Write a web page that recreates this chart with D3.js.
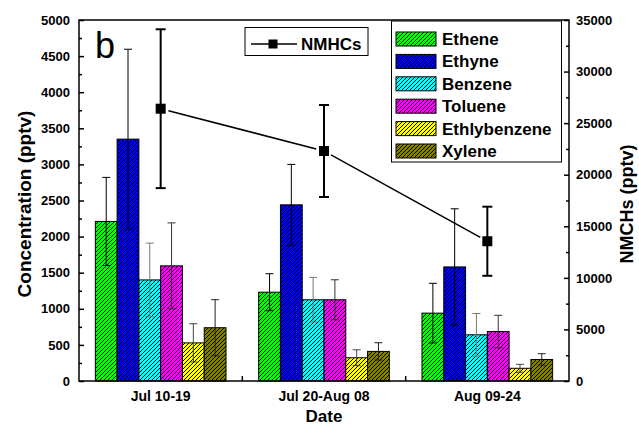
<!DOCTYPE html>
<html>
<head>
<meta charset="utf-8">
<script src="https://cdn.jsdelivr.net/npm/d3@7"></script>
<style>
  body { margin: 0; background: #fff; }
  text { font-family: "Liberation Sans", Arial, sans-serif; }
</style>
</head>
<body>
<svg id="chart" width="639" height="426"></svg>
<script>
// data
var periods = ["Jul 10-19", "Jul 20-Aug 08", "Aug 09-24"];
var species = ["Ethene", "Ethyne", "Benzene", "Toluene", "Ethlybenzene", "Xylene"];
var speciesColors = ["#00ff00", "#0000ff", "#00ffff", "#ff00ff", "#ffff00", "#808000"];
var errColors = ["#000", "#000", "#777", "#333", "#444", "#222"];
var ethene = [2210, 1230, 940];
var ethyne = [3350, 2440, 1580];
var benzene = [1400, 1125, 640];
var toluene = [1595, 1125, 685];
var ethlybenzene = [528, 322, 176];
var xylene = [738, 410, 298];
var etheneErr = [610, 256, 413];
var ethyneErr = [1245, 560, 805];
var benzeneErr = [510, 310, 295];
var tolueneErr = [595, 277, 225];
var ethlybenzeneErr = [265, 110, 55];
var xyleneErr = [388, 120, 80];
var nmhc = [26400, 22300, 13550];
var nmhcErr = [7700, 4460, 3350];
var leftTicks = d3.range(0, 5001, 500);
var rightTicks = d3.range(0, 35001, 5000);

var values = [ethene, ethyne, benzene, toluene, ethlybenzene, xylene];
var errors = [etheneErr, ethyneErr, benzeneErr, tolueneErr, ethlybenzeneErr, xyleneErr];

var L = 79, R = 569, T = 20, B = 381;
var svg = d3.select("#chart");

var defs = svg.append("defs");
speciesColors.forEach(function(c, i) {
    var p = defs.append("pattern")
        .attr("id", "hatch" + i)
        .attr("patternUnits", "userSpaceOnUse")
        .attr("width", 4).attr("height", 4);
    p.append("rect").attr("width", 4).attr("height", 4).attr("fill", c);
    p.append("path")
        .attr("d", "M-1,1 l2,-2 M0,4 l4,-4 M3,5 l2,-2")
        .attr("stroke", "#000").attr("stroke-width", 1);
});

var x0 = d3.scaleBand().domain(periods).range([L, R]);
var x1 = d3.scaleBand().domain(species).range([0, x0.bandwidth()]).paddingOuter(0.75);
var y = d3.scaleLinear().domain([0, 5000]).range([B, T]);
var y2 = d3.scaleLinear().domain([0, 35000]).range([B, T]);

// bars
var rows = [];
species.forEach(function(s, i) {
    periods.forEach(function(p, j) {
        rows.push({s: s, i: i, p: p, v: values[i][j], e: errors[i][j]});
    });
});

var body = svg.append("g").attr("id", "body");
body.selectAll("rect.bar")
    .data(rows)
    .enter().append("rect")
    .attr("class", "bar")
    .attr("x", d => x0(d.p) + x1(d.s))
    .attr("y", d => y(d.v))
    .attr("width", x1.bandwidth())
    .attr("height", d => B - y(d.v))
    .attr("fill", d => `url(#hatch${d.i})`)
    .attr("stroke", "#000")
    .attr("stroke-width", 1);

var eb = body.selectAll("g.err")
    .data(rows)
    .enter().append("g")
    .attr("class", "err")
    .attr("stroke", d => errColors[d.i])
    .attr("stroke-width", 1);
eb.append("line")
    .attr("x1", d => x0(d.p) + x1(d.s) + x1.bandwidth() / 2)
    .attr("x2", d => x0(d.p) + x1(d.s) + x1.bandwidth() / 2)
    .attr("y1", d => y(d.v + d.e))
    .attr("y2", d => y(d.v - d.e));
[1, -1].forEach(function(sg) {
    eb.append("line")
        .attr("x1", d => x0(d.p) + x1(d.s) + x1.bandwidth() / 2 - 4)
        .attr("x2", d => x0(d.p) + x1(d.s) + x1.bandwidth() / 2 + 4)
        .attr("y1", d => y(d.v + sg * d.e))
        .attr("y2", d => y(d.v + sg * d.e));
});

// NMHC line
var pts = periods.map((p, j) => ({x: x0(p) + x0.bandwidth() / 2, y: y2(nmhc[j]), hi: y2(nmhc[j] + nmhcErr[j]), lo: y2(nmhc[j] - nmhcErr[j])}));
var gap = 8;
for (var k = 0; k < pts.length - 1; k++) {
    var a = pts[k], b = pts[k + 1];
    var dx = b.x - a.x, dy = b.y - a.y, len = Math.sqrt(dx * dx + dy * dy);
    svg.append("line")
        .attr("x1", a.x + dx / len * gap).attr("y1", a.y + dy / len * gap)
        .attr("x2", b.x - dx / len * gap).attr("y2", b.y - dy / len * gap)
        .attr("stroke", "#000").attr("stroke-width", 1.5);
}
var ng = svg.append("g").attr("stroke", "#000").attr("stroke-width", 2);
ng.selectAll("line.v").data(pts).enter().append("line")
    .attr("x1", d => d.x).attr("x2", d => d.x)
    .attr("y1", d => d.hi).attr("y2", d => d.lo);
ng.selectAll("line.h").data(pts).enter().append("line")
    .attr("x1", d => d.x - 5).attr("x2", d => d.x + 5)
    .attr("y1", d => d.hi).attr("y2", d => d.hi);
ng.selectAll("line.l").data(pts).enter().append("line")
    .attr("x1", d => d.x - 5).attr("x2", d => d.x + 5)
    .attr("y1", d => d.lo).attr("y2", d => d.lo);
svg.selectAll("rect.mk").data(pts).enter().append("rect")
    .attr("x", d => d.x - 5).attr("y", d => d.y - 5)
    .attr("width", 10).attr("height", 10).attr("fill", "#000");

// axes
var yAxis = d3.axisLeft(y).tickValues(leftTicks).tickFormat(d3.format("d")).tickSize(-5).tickPadding(9);
svg.append("g").attr("transform", `translate(${L},0)`).call(yAxis);
var yMinor = d3.axisLeft(y).tickValues(d3.range(250, 5000, 500)).tickSize(-3).tickFormat("");
svg.append("g").attr("transform", `translate(${L},0)`).call(yMinor);

var y2Axis = d3.axisRight(y2).tickValues(rightTicks).tickFormat(d3.format("d")).tickSize(-5).tickPadding(7);
svg.append("g").attr("transform", `translate(${R},0)`).call(y2Axis);
var y2Minor = d3.axisRight(y2).tickValues(d3.range(2500, 35000, 5000)).tickSize(-3).tickFormat("");
svg.append("g").attr("transform", `translate(${R},0)`).call(y2Minor);

var xAxis = d3.axisBottom(x0).tickSize(0).tickPadding(10);
var gx = svg.append("g").attr("class", "xax").attr("transform", `translate(0,${B})`).call(xAxis);
svg.append("g").selectAll("line").data(periods.slice(1)).enter().append("line")
    .attr("x1", d => x0(d)).attr("x2", d => x0(d))
    .attr("y1", B).attr("y2", B - 5)
    .attr("stroke", "#000").attr("stroke-width", 1.5);

svg.selectAll(".domain").remove();
svg.selectAll(".tick line").attr("stroke-width", 1.5);
svg.selectAll(".tick text")
    .attr("font-size", 13).attr("font-weight", "bold")
    .attr("font-family", "Liberation Sans, Arial, sans-serif");
gx.selectAll(".tick text").attr("font-size", 14);

svg.append("rect")
    .attr("x", L).attr("y", T).attr("width", R - L).attr("height", B - T)
    .attr("fill", "none").attr("stroke", "#000").attr("stroke-width", 1.5);

// titles
svg.append("text").attr("transform", `translate(31,204) rotate(-90)`)
    .attr("text-anchor", "middle").attr("font-size", 19).attr("font-weight", "bold")
    .text("Concentration (pptv)");
svg.append("text").attr("transform", `translate(633,204) rotate(-90)`)
    .attr("text-anchor", "middle").attr("font-size", 18).attr("font-weight", "bold")
    .text("NMCHs (pptv)");
svg.append("text").attr("x", (L + R) / 2).attr("y", 422)
    .attr("text-anchor", "middle").attr("font-size", 17).attr("font-weight", "bold")
    .text("Date");
svg.append("text").attr("x", 95).attr("y", 58)
    .attr("font-size", 36).text("b");

// legends
var lg = svg.append("g");
lg.append("rect").attr("x", 391.5).attr("y", 21).attr("width", 170).attr("height", 141)
    .attr("fill", "#fff").attr("stroke", "#000").attr("stroke-width", 1);
species.forEach(function(s, i) {
    var cy = 39 + i * 22.4;
    lg.append("rect").attr("x", 396).attr("y", cy - 7).attr("width", 40).attr("height", 14)
        .attr("fill", `url(#hatch${i})`).attr("stroke", "#000").attr("stroke-width", 1);
    lg.append("text").attr("x", 442).attr("y", cy + 6)
        .attr("font-size", 17).attr("font-weight", "bold").text(s);
});

var nl = svg.append("g");
nl.append("rect").attr("x", 245).attr("y", 27.5).attr("width", 123).attr("height", 28)
    .attr("fill", "#fff").attr("stroke", "#000").attr("stroke-width", 1);
nl.append("line").attr("x1", 251).attr("x2", 297).attr("y1", 44).attr("y2", 44)
    .attr("stroke", "#000").attr("stroke-width", 1.5);
nl.append("rect").attr("x", 268.5).attr("y", 39.5).attr("width", 9).attr("height", 9).attr("fill", "#000");
nl.append("text").attr("x", 301).attr("y", 50)
    .attr("font-size", 17).attr("font-weight", "bold").text("NMHCs");
</script>
</body>
</html>
